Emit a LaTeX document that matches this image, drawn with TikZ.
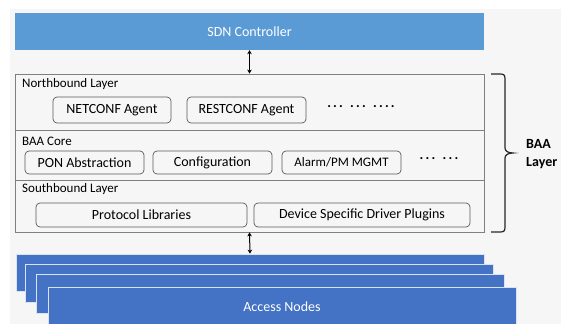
\documentclass[tikz,border=0pt]{standalone}
\usepackage{fontspec}
\setmainfont{Carlito}
\usetikzlibrary{arrows.meta}
\definecolor{paper}{HTML}{F6F6F6}
\definecolor{sdnblue}{HTML}{5B9BD5}
\definecolor{anblue}{HTML}{4472C4}
\definecolor{frame}{HTML}{7F7F7F}
\definecolor{modline}{HTML}{595959}
\tikzset{
  ctrlbox/.style={fill=sdnblue, draw=none, text=white, font=\fontsize{14}{16}\selectfont,
    minimum width=469pt, minimum height=37pt, inner sep=0pt},
  anbox/.style={fill=anblue, draw=white!80!anblue, line width=0.8pt, text=white,
    font=\fontsize{14}{16}\selectfont, minimum width=468pt, inner sep=0pt},
  layerbox/.style={draw=frame, line width=0.8pt, fill=paper, minimum width=469pt,
    minimum height=158pt, inner sep=0pt},
  modbox/.style={draw=modline, line width=0.7pt, rounded corners=4pt, fill=paper,
    font=\fontsize{14}{16}\selectfont, inner sep=0pt},
  layerlabel/.style={anchor=west, inner sep=0pt, font=\fontsize{13}{15}\selectfont},
  moredots/.style={inner sep=0pt, font=\fontsize{14}{16}\selectfont\bfseries\addfontfeatures{LetterSpace=16}},
  link/.style={line width=1pt, {Stealth[length=4pt,width=4.5pt]}-{Stealth[length=4pt,width=4.5pt]}},
  bracket/.style={line width=1.2pt, draw=black!85},
}
\begin{document}
\begin{tikzpicture}[x=1pt,y=-1pt]
  \useasboundingbox (0,0) rectangle (566,324);
  \fill[paper] (10,9) rectangle (561,324);

  % controller on top
  \node[ctrlbox] (sdn) at (249.5,31.5) {SDN Controller};

  % BAA layer frame and its three sub-layers
  \node[layerbox] (baa) at (249.5,153) {};
  \draw[frame, line width=0.8pt] (baa.west |- 0,130) -- (baa.east |- 0,130);
  \draw[frame, line width=0.8pt] (baa.west |- 0,180) -- (baa.east |- 0,180);

  \node[layerlabel] (nbl) at (22,84) {Northbound Layer};
  \node[layerlabel] (core) at (22,141) {BAA Core};
  \node[layerlabel] (sbl) at (22,189) {Southbound Layer};

  % northbound modules
  \node[modbox, minimum width=118pt, minimum height=26pt] (netconf) at (112,110) {NETCONF Agent};
  \node[modbox, minimum width=119pt, minimum height=26pt] (restconf) at (246.5,110) {RESTCONF Agent};
  \node[moredots] (nbdots) at (361,107) {... ... ....};

  % core modules
  \node[modbox, minimum width=119pt, minimum height=23pt] (pon) at (84.5,162.5) {PON Abstraction};
  \node[modbox, minimum width=119pt, minimum height=23pt] (config) at (212.5,162.5) {Configuration};
  \node[modbox, minimum width=119pt, minimum height=23pt, font=\fontsize{13}{15}\selectfont] (alarm) at (341.5,162.5) {Alarm/PM MGMT};
  \node[moredots] (coredots) at (439,159) {... ...};

  % southbound modules
  \node[modbox, minimum width=211pt, minimum height=24pt] (protolib) at (141.5,215) {Protocol Libraries};
  \node[modbox, minimum width=216pt, minimum height=24pt] (driver) at (362,215) {Device Specific Driver Plugins};

  % bracket grouping the BAA layer
  \draw[bracket] (491,74) -- (500,74) .. controls (504,74) and (505,75) .. (505,79)
    -- (505,148) .. controls (505,151) and (508,153) .. (513,153)
    .. controls (508,153) and (505,155) .. (505,158)
    -- (505,227) .. controls (505,231) and (504,232) .. (500,232) -- (491,232);
  \node[anchor=west, align=left, inner sep=0pt, font=\fontsize{14}{18}\selectfont\bfseries] (baalabel) at (526,154) {BAA\\Layer};

  % stack of access nodes
  \node[anbox, minimum height=37pt] (an1) at (250,272.5) {};
  \node[anbox, minimum height=38pt] (an2) at (259,283) {};
  \node[anbox, minimum height=39pt] (an3) at (270,293.5) {};
  \node[anbox, minimum height=40pt] (an4) at (282,307) {Access Nodes};

  % links between the tiers
  \draw[link] (sdn.south) -- (baa.north);
  \draw[link] (baa.south) -- (an1.north);
\end{tikzpicture}
\end{document}
